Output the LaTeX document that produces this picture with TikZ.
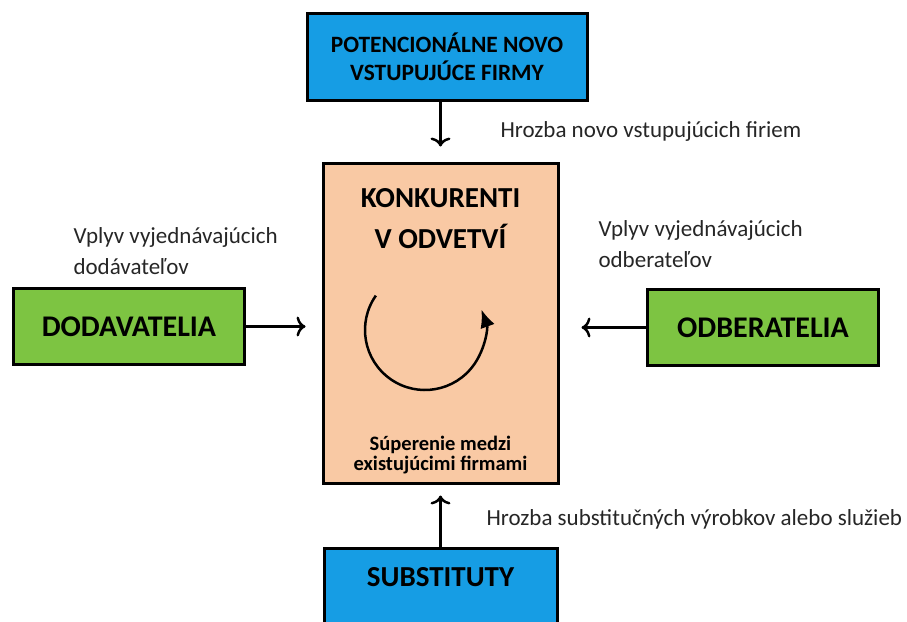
\documentclass[tikz,border=0pt]{standalone}
\usepackage{fontspec}
\setmainfont{Carlito}
\usepackage{xcolor}
\usetikzlibrary{arrows.meta}

\definecolor{boxblue}{RGB}{22,157,228}
\definecolor{boxgreen}{RGB}{125,196,66}
\definecolor{boxpeach}{RGB}{249,201,164}
\definecolor{labelgray}{RGB}{38,38,38}

\begin{document}
\begin{tikzpicture}[x=1pt,y=-1pt]
\tikzset{every node/.style={font=\fontsize{23}{31}\selectfont}}
\tikzset{box/.style={draw=black,line width=3pt,inner sep=0pt,align=center,font=\bfseries\fontsize{30}{32}\selectfont}}
\tikzset{bluebox/.style={box,fill=boxblue}}
\tikzset{greenbox/.style={box,fill=boxgreen,minimum width=231pt,minimum height=76pt}}
\tikzset{influence/.style={text=labelgray,align=left,anchor=west}}
\tikzset{force/.style={-{To[length=9pt,width=20pt]},line width=2.5pt}}

\useasboundingbox (0,0) rectangle (907,621);

% the five forces
\node[bluebox,minimum width=280pt,minimum height=87pt,font=\bfseries\fontsize{23.4}{28}\selectfont] (potencial) at (447,56.5) {POTENCIONÁLNE NOVO\\VSTUPUJÚCE FIRMY};
\node[box,fill=boxpeach,minimum width=235pt,minimum height=320pt] (konkurenti) at (440.5,323) {};
\node[greenbox] (dodavatelia) at (129,326.5) {DODAVATELIA};
\node[greenbox] (odberatelia) at (763,327.5) {ODBERATELIA};
\node[bluebox,anchor=north,minimum width=233pt,text height=38pt,text depth=70pt,font=\bfseries\fontsize{29}{32}\selectfont] (substituty) at (440.5,547) {SUBSTITUTY};

% inside the rivalry box
\node[align=center,font=\bfseries\fontsize{29}{41}\selectfont] (odvetvie) at (440.5,219) {KONKURENTI\\V ODVETVÍ};
\node[align=center,font=\bfseries\fontsize{20.5}{20}\selectfont] (superenie) at (440.5,455) {Súperenie medzi\\existujúcimi firmami};
\coordinate (rivalry) at (425,330);
\draw[line width=2.5pt,-{Latex[length=18pt,width=15pt]}] ([shift={(145:60pt)}]rivalry) arc[start angle=145,end angle=380,radius=60pt];

% arrows
\draw[force,shorten >=15pt] (potencial.south -| konkurenti.north) -- (konkurenti.north);
\draw[force,shorten >=16pt] (dodavatelia.east) -- (dodavatelia.east -| konkurenti.west);
\draw[force,shorten >=22pt] (odberatelia.west) -- (odberatelia.west -| konkurenti.east);
\draw[force,shorten >=11pt] (substituty.north) -- (konkurenti.south);

% labels
\node[influence] (hrozbanovo) at (497,131) {Hrozba novo vstupujúcich firiem};
\node[influence] (vplyvdod) at (70,251) {Vplyv vyjednávajúcich\\dodávateľov};
\node[influence] (vplyvodb) at (595,244) {Vplyv vyjednávajúcich\\odberateľov};
\node[influence] (hrozbasub) at (483,519) {Hrozba substitučných výrobkov alebo služieb};

\end{tikzpicture}
\end{document}
